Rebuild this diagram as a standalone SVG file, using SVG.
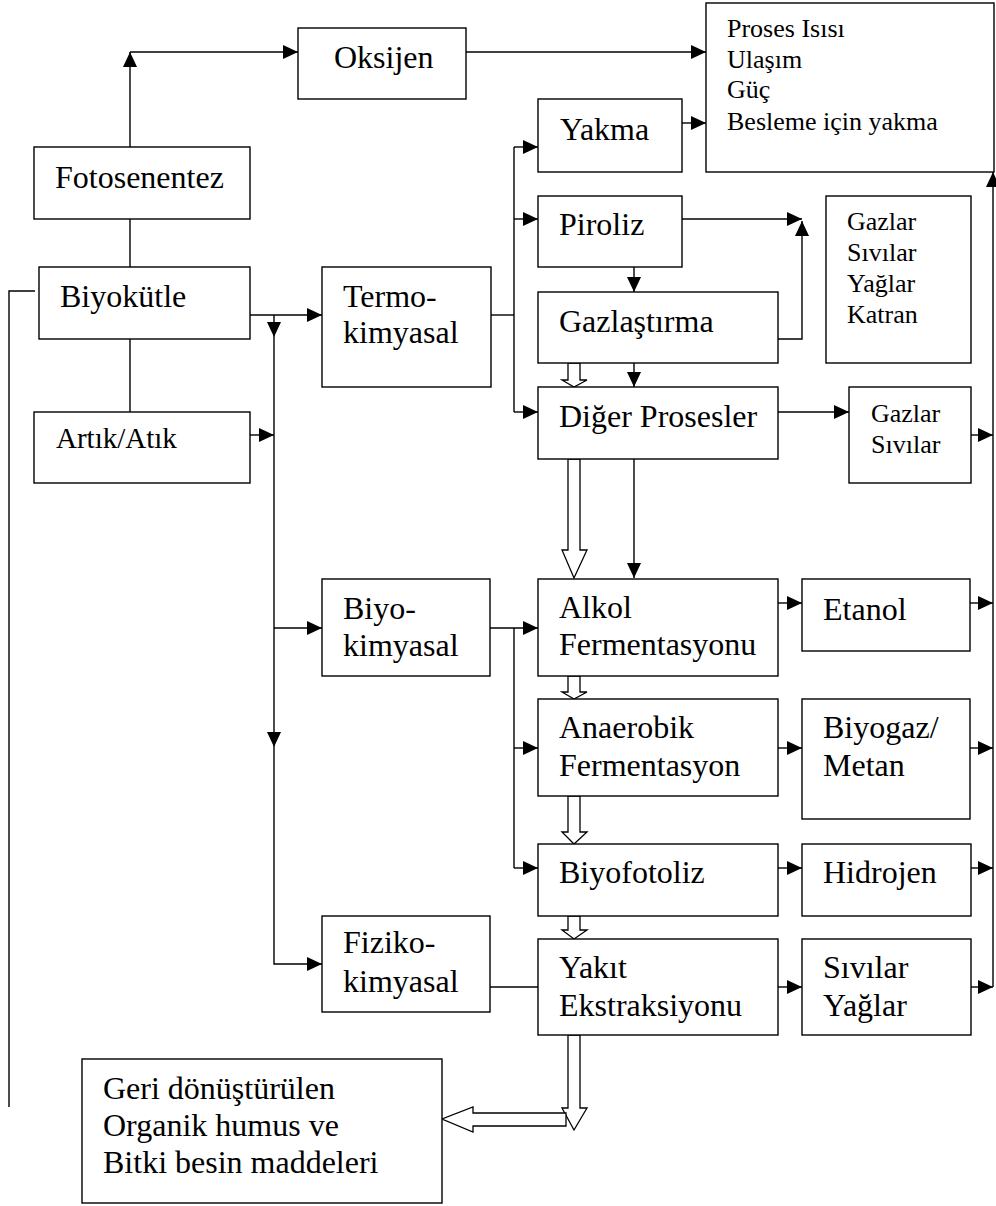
<svg xmlns="http://www.w3.org/2000/svg" width="996" height="1206" viewBox="0 0 996 1206">
<style>
.box{fill:#fff;stroke:#000;stroke-width:1.4}
.t{font-family:"Liberation Serif","Times New Roman",serif;font-size:32px;fill:#000}
.s{font-size:26px}
.a{font-size:29px}
.c{fill:none;stroke:#000;stroke-width:1.4}
.h{fill:#fff;stroke:#000;stroke-width:1.3}
</style>
<defs>
<marker id="ar" markerUnits="userSpaceOnUse" markerWidth="16" markerHeight="14" refX="15" refY="7" orient="auto">
<path d="M0,0 L15,7 L0,14 z" fill="#000"/>
</marker>
</defs>
<rect width="996" height="1206" fill="#fff"/>
<g id="connectors">
<path class="c" d="M130,147 V52" marker-end="url(#ar)"/>
<path class="c" d="M130,52 H298" marker-end="url(#ar)"/>
<path class="c" d="M466,52 H706" marker-end="url(#ar)"/>
<path class="c" d="M130,219 V267"/>
<path class="c" d="M130,339 V412"/>
<path class="c" d="M35,291 H9 V1107"/>
<path class="c" d="M250,315 H322" marker-end="url(#ar)"/>
<path class="c" d="M274,315 V337" marker-end="url(#ar)"/>
<path class="c" d="M274,337 V747" marker-end="url(#ar)"/>
<path class="c" d="M274,747 V964 H322" marker-end="url(#ar)"/>
<path class="c" d="M250,435 H274" marker-end="url(#ar)"/>
<path class="c" d="M274,628 H322" marker-end="url(#ar)"/>
<path class="c" d="M491,315 H514"/>
<path class="c" d="M514,147 V412"/>
<path class="c" d="M514,147 H538" marker-end="url(#ar)"/>
<path class="c" d="M514,219 H538" marker-end="url(#ar)"/>
<path class="c" d="M514,412 H538" marker-end="url(#ar)"/>
<path class="c" d="M682,123 H706" marker-end="url(#ar)"/>
<path class="c" d="M682,219 H802" marker-end="url(#ar)"/>
<path class="c" d="M778,339 H802 V221" marker-end="url(#ar)"/>
<path class="c" d="M634,267 V292" marker-end="url(#ar)"/>
<path class="c" d="M634,363 V387" marker-end="url(#ar)"/>
<path class="c" d="M778,412 H849" marker-end="url(#ar)"/>
<path class="c" d="M971,435 H993" marker-end="url(#ar)"/>
<path class="c" d="M634,459 V578" marker-end="url(#ar)"/>
<path class="c" d="M490,628 H538" marker-end="url(#ar)"/>
<path class="c" d="M514,628 V868"/>
<path class="c" d="M514,748 H538" marker-end="url(#ar)"/>
<path class="c" d="M514,868 H538" marker-end="url(#ar)"/>
<path class="c" d="M778,603 H802" marker-end="url(#ar)"/>
<path class="c" d="M970,603 H993" marker-end="url(#ar)"/>
<path class="c" d="M778,748 H802" marker-end="url(#ar)"/>
<path class="c" d="M970,748 H993" marker-end="url(#ar)"/>
<path class="c" d="M778,868 H802" marker-end="url(#ar)"/>
<path class="c" d="M971,868 H993" marker-end="url(#ar)"/>
<path class="c" d="M490,987 H538"/>
<path class="c" d="M778,987 H802" marker-end="url(#ar)"/>
<path class="c" d="M971,987 H993" marker-end="url(#ar)"/>
<path class="c" d="M993,987 V172" marker-end="url(#ar)"/>
<polygon class="h" points="568,363 580,363 580,380 587,380 574,387 562,380 568,380"/>
<polygon class="h" points="568,459 580,459 580,550 587,550 574,578 562,550 568,550"/>
<polygon class="h" points="568,676 580,676 580,692 587,692 574,699 562,692 568,692"/>
<polygon class="h" points="568,796 580,796 580,832 587,832 574,844 562,832 568,832"/>
<polygon class="h" points="568,916 580,916 580,930 587,930 574,939 562,930 568,930"/>
<polygon class="h" points="568,1035 580,1035 580,1108 587,1108 574,1130 562,1108 568,1108"/>
<polygon class="h" points="566,1113 566,1126 473,1126 473,1132 442,1119 473,1107 473,1113"/>
</g>
<g id="oksijen"><rect class="box" x="298" y="28" width="168" height="71"/><text class="t" x="334" y="68">Oksijen</text></g>
<g id="proses"><rect class="box" x="706" y="3" width="288" height="169"/>
<text class="t s" x="727" y="37">Proses Isısı</text>
<text class="t s" x="727" y="68">Ulaşım</text>
<text class="t s" x="727" y="98">Güç</text>
<text class="t s" x="727" y="130">Besleme için yakma</text></g>
<g id="fotosentez"><rect class="box" x="34" y="147" width="216" height="72"/><text class="t" x="55" y="188">Fotosenentez</text></g>
<g id="biyokutle"><rect class="box" x="39" y="267" width="211" height="72"/><text class="t" x="60" y="307">Biyokütle</text></g>
<g id="artik"><rect class="box" x="34" y="412" width="216" height="71"/><text class="t a" x="56" y="448">Artık/Atık</text></g>
<g id="termo"><rect class="box" x="322" y="267" width="169" height="120"/><text class="t" x="343" y="307">Termo-</text><text class="t" x="343" y="343">kimyasal</text></g>
<g id="yakma"><rect class="box" x="538" y="99" width="144" height="73"/><text class="t" x="560" y="140">Yakma</text></g>
<g id="piroliz"><rect class="box" x="538" y="196" width="144" height="71"/><text class="t" x="559" y="235">Piroliz</text></g>
<g id="gazlar1"><rect class="box" x="826" y="196" width="145" height="167"/>
<text class="t s" x="847" y="230">Gazlar</text>
<text class="t s" x="847" y="261">Sıvılar</text>
<text class="t s" x="847" y="292">Yağlar</text>
<text class="t s" x="847" y="323">Katran</text></g>
<g id="gazlastirma"><rect class="box" x="538" y="292" width="240" height="71"/><text class="t" x="559" y="332">Gazlaştırma</text></g>
<g id="diger"><rect class="box" x="538" y="387" width="240" height="72"/><text class="t" x="559" y="427">Diğer Prosesler</text></g>
<g id="gazlar2"><rect class="box" x="849" y="387" width="122" height="96"/><text class="t s" x="871" y="422">Gazlar</text><text class="t s" x="871" y="453">Sıvılar</text></g>
<g id="biyokimyasal"><rect class="box" x="322" y="579" width="168" height="97"/><text class="t" x="343" y="619">Biyo-</text><text class="t" x="343" y="656">kimyasal</text></g>
<g id="alkol"><rect class="box" x="538" y="579" width="240" height="97"/><text class="t" x="559" y="618">Alkol</text><text class="t" x="559" y="655">Fermentasyonu</text></g>
<g id="etanol"><rect class="box" x="802" y="579" width="168" height="72"/><text class="t" x="823" y="620">Etanol</text></g>
<g id="anaerobik"><rect class="box" x="538" y="699" width="240" height="97"/><text class="t" x="559" y="738">Anaerobik</text><text class="t" x="559" y="776">Fermentasyon</text></g>
<g id="biyogaz"><rect class="box" x="802" y="699" width="168" height="120"/><text class="t" x="823" y="738">Biyogaz/</text><text class="t" x="823" y="776">Metan</text></g>
<g id="biyofotoliz"><rect class="box" x="538" y="844" width="240" height="72"/><text class="t" x="559" y="883">Biyofotoliz</text></g>
<g id="hidrojen"><rect class="box" x="802" y="844" width="169" height="72"/><text class="t" x="823" y="883">Hidrojen</text></g>
<g id="fiziko"><rect class="box" x="322" y="916" width="168" height="96"/><text class="t" x="343" y="953">Fiziko-</text><text class="t" x="343" y="992">kimyasal</text></g>
<g id="yakit"><rect class="box" x="538" y="939" width="240" height="96"/><text class="t" x="559" y="978">Yakıt</text><text class="t" x="559" y="1016">Ekstraksiyonu</text></g>
<g id="sivilar"><rect class="box" x="802" y="939" width="169" height="96"/><text class="t" x="823" y="978">Sıvılar</text><text class="t" x="823" y="1016">Yağlar</text></g>
<g id="geri"><rect class="box" x="82" y="1059" width="360" height="144"/>
<text class="t" x="103" y="1099">Geri dönüştürülen</text>
<text class="t" x="103" y="1136">Organik humus ve</text>
<text class="t" x="103" y="1173">Bitki besin maddeleri</text></g>
</svg>
